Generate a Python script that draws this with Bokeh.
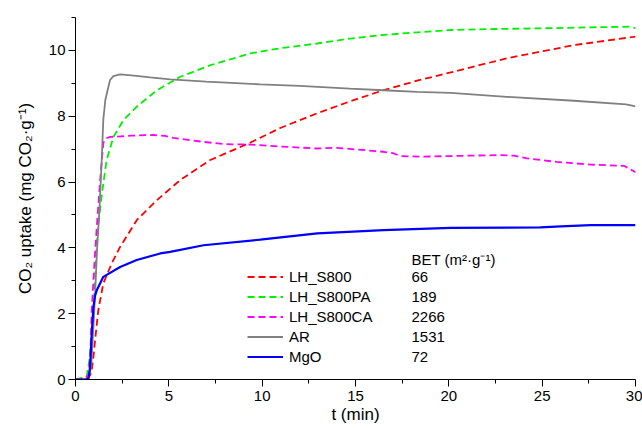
from bokeh.plotting import figure
from bokeh.models import Legend, LegendItem, FixedTicker, Range1d, ColumnDataSource
from bokeh.core.properties import value
from bokeh.embed import file_html
from bokeh.resources import INLINE

# ---------------- data ----------------
t_s800 = [0, 0.4, 0.7, 0.8, 0.87, 0.96, 1.05, 1.22, 1.49, 1.94, 2.39, 3.28, 4.36, 5.61, 7.22,
          9.37, 11.0, 12.95, 14.7, 16.5, 18.3, 20.1, 23.1, 26.7, 29.9, 30]
y_s800 = [0, 0.04, 0.06, 0.15, 0.28, 0.69, 1.2, 2.1, 2.92, 3.53, 4.03, 4.84, 5.45, 6.06, 6.67,
          7.2, 7.65, 8.09, 8.45, 8.79, 9.08, 9.33, 9.76, 10.16, 10.41, 10.42]

t_s800pa = [0, 0.4, 0.6, 0.75, 0.85, 0.96, 1.05, 1.14, 1.31, 1.5, 1.67, 2.03, 2.57, 3.28, 4.36,
            5.61, 7.22, 9.37, 11.0, 12.95, 14.7, 16.5, 18.3, 20.1, 22.5, 24.9, 27.5, 29.7, 30]
y_s800pa = [0, 0.05, 0.1, 0.6, 1.3, 2.1, 3.1, 4.14, 5.15, 6.0, 6.67, 7.37, 7.88, 8.29, 8.79,
            9.2, 9.55, 9.91, 10.07, 10.21, 10.36, 10.47, 10.55, 10.62, 10.65, 10.67, 10.70, 10.72, 10.68]

t_s800ca = [0, 0.5, 0.7, 0.8, 0.87, 1.0, 1.14, 1.3, 1.41, 1.49, 1.6, 1.85, 3.0, 4.18, 4.8, 5.25,
            6.86, 8.0, 9.37, 11.0, 12.9, 14.0, 16.5, 17.0, 17.4, 18.5, 20.1, 22.8, 23.5, 24.2,
            25.8, 27.6, 29.4, 30]
y_s800ca = [0, 0.02, 0.15, 0.8, 2.1, 3.4, 4.64, 5.9, 6.67, 7.18, 7.32, 7.37, 7.41, 7.43, 7.40, 7.34,
            7.22, 7.15, 7.14, 7.08, 7.02, 7.04, 6.92, 6.88, 6.79, 6.77, 6.79, 6.82, 6.80, 6.72,
            6.61, 6.53, 6.49, 6.30]

t_ar = [0, 0.5, 0.7, 0.85, 0.95, 1.05, 1.15, 1.28, 1.4, 1.49, 1.6, 1.85, 2.03, 2.39, 3.0, 4.0,
        5.07, 7.0, 9.9, 12.0, 14.7, 16.5, 18.3, 20.1, 23.1, 26.7, 29.5, 30]
y_ar = [0, 0.01, 0.02, 0.5, 1.5, 2.6, 3.9, 5.14, 6.6, 7.9, 8.5, 9.1, 9.22, 9.27, 9.24, 9.18,
        9.12, 9.05, 8.97, 8.92, 8.84, 8.79, 8.74, 8.71, 8.59, 8.47, 8.36, 8.30]

t_mgo = [0, 0.5, 0.67, 0.72, 0.78, 0.87, 0.96, 1.05, 1.14, 1.49, 2.39, 3.28, 4.54, 5.07, 6.86,
         9.9, 12.95, 16.5, 20.1, 24.9, 26.0, 27.6, 30]
y_mgo = [0, 0, 0.01, 0.1, 0.38, 1.4, 2.2, 2.55, 2.71, 3.12, 3.42, 3.63, 3.83, 3.88, 4.08,
         4.25, 4.44, 4.54, 4.61, 4.62, 4.65, 4.69, 4.69]

names = ["LH_S800", "LH_S800PA", "LH_S800CA", "AR", "MgO"]
bet = ["66", "189", "2266", "1531", "72"]
bet_header = "BET (m\u00b2\u00b7g\u207b\u00b9)"

x_ticks = [0, 5, 10, 15, 20, 25, 30]
x_minor = [2.5, 7.5, 12.5, 17.5, 22.5, 27.5]
y_ticks = [0, 2, 4, 6, 8, 10]
y_minor = [1, 3, 5, 7, 9, 11]

# ---------------- figure ----------------
FONT = "Liberation Sans"
X0, X1, Y0, Y1 = 0, 30, 0, 11
W, H = 642, 428
B_L, B_R, B_T, B_B = 75, 7, 17, 49

p = figure(width=W, height=H, output_backend="svg", toolbar_location=None,
           x_range=Range1d(X0, X1), y_range=Range1d(Y0, Y1),
           min_border_left=B_L, min_border_right=B_R, min_border_top=B_T, min_border_bottom=B_B)
p.outline_line_color = None
p.grid.visible = False
p.background_fill_color = "white"
p.border_fill_color = "white"

p.xaxis.ticker = FixedTicker(ticks=x_ticks, minor_ticks=x_minor)
p.yaxis.ticker = FixedTicker(ticks=y_ticks, minor_ticks=y_minor)
for ax in (p.xaxis[0], p.yaxis[0]):
    ax.axis_line_color = "black"
    ax.major_tick_line_color = "black"
    ax.minor_tick_line_color = "black"
    ax.major_tick_in = 0
    ax.major_tick_out = 7
    ax.minor_tick_in = 0
    ax.minor_tick_out = 4
    ax.major_label_text_font = FONT
    ax.major_label_text_font_size = "15px"
    ax.major_label_text_color = "black"
    ax.axis_label_text_font = FONT
    ax.axis_label_text_font_size = "17px"
    ax.axis_label_text_font_style = "normal"
    ax.axis_label_text_color = "black"

p.xaxis.axis_label = "t (min)"
p.xaxis.major_label_standoff = 4
p.xaxis.axis_label_standoff = 1
p.yaxis.axis_label = "CO\u2082 uptake (mg CO\u2082\u00b7g\u207b\u00b9)"
p.yaxis.major_label_standoff = 3
p.yaxis.axis_label_standoff = 11

series = [
    (t_s800, y_s800, "#ff0000", "7 4", 1.8),
    (t_s800pa, y_s800pa, "#00f000", "7 4", 1.8),
    (t_s800ca, y_s800ca, "#ff00ff", "7 4", 1.8),
    (t_ar, y_ar, "#808080", "solid", 1.8),
    (t_mgo, y_mgo, "#0000ff", "solid", 2.2),
]
items = []
for (tx, ty, col, dash, w), nm in zip(series, names):
    r = p.line(tx, ty, line_color=col, line_dash=dash, line_width=w)
    items.append(LegendItem(label=nm, renderers=[r]))

ROW_H, SPACING, LEG_BOTTOM, LEG_LEFT = 17, 3, 14, 172
legend = Legend(items=items, location=(LEG_LEFT, LEG_BOTTOM), orientation="vertical",
                glyph_width=36, glyph_height=ROW_H, label_height=ROW_H, spacing=SPACING,
                padding=0, margin=0, label_standoff=6,
                border_line_alpha=0, background_fill_alpha=0,
                label_text_font=FONT, label_text_font_size="15px", label_text_color="black")
p.add_layout(legend)

# BET column (aligned with legend rows)
frame_h = H - B_T - B_B
px_per_unit = frame_h / (Y1 - Y0)
bet_x = 18.0
n = len(bet)
row_centers = [(LEG_BOTTOM + ROW_H / 2 + (ROW_H + SPACING) * (n - 1 - i)) / px_per_unit for i in range(n)]
header_y = (LEG_BOTTOM + ROW_H / 2 + (ROW_H + SPACING) * n - 2) / px_per_unit
src = ColumnDataSource(dict(x=[bet_x] * (n + 1), y=[header_y] + row_centers, t=[bet_header] + bet))
p.text(x="x", y="y", text="t", source=src, text_font=value(FONT), text_font_size="15px",
       text_baseline="middle", text_align="left", text_color="black")

open("out.html", "w").write(file_html(p, INLINE))
